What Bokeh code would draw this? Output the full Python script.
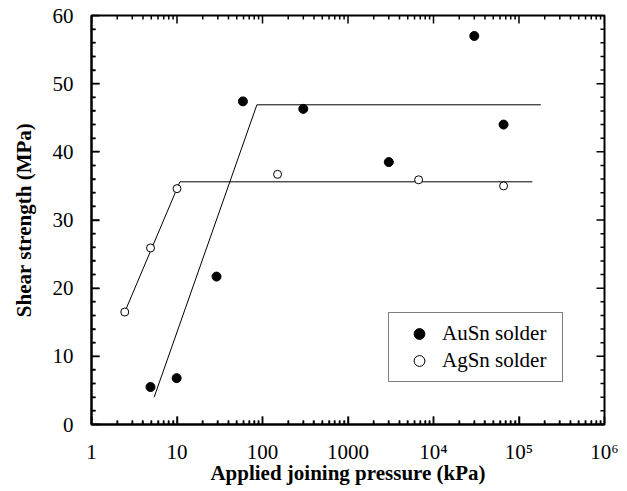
from bokeh.plotting import figure
from bokeh.models import FixedTicker, Legend, LegendItem, Range1d
from bokeh.embed import file_html
from bokeh.resources import INLINE

# ---- data ----
au_p = [4.9, 9.9, 29, 59, 300, 3000, 30000, 66000]
au_s = [5.5, 6.8, 21.7, 47.4, 46.3, 38.5, 57.0, 44.0]
ag_p = [2.45, 4.9, 10, 150, 6700, 66000]
ag_s = [16.5, 25.9, 34.6, 36.7, 35.9, 35.0]
au_fit_p = [5.4, 86, 180000]
au_fit_s = [4.0, 46.9, 46.9]
ag_fit_p = [2.45, 10.8, 143000]
ag_fit_s = [16.5, 35.6, 35.6]

x_major = [1, 10, 100, 1000, 1e4, 1e5, 1e6]
x_labels = ["1", "10", "100", "1000", "10\u2074", "10\u2075", "10\u2076"]
x_minor = [m * 10 ** d for d in range(6) for m in range(2, 10)]
y_major = [0, 10, 20, 30, 40, 50, 60]
y_minor = [2, 4, 6, 8, 12, 14, 16, 18, 22, 24, 26, 28, 32, 34, 36, 38,
           42, 44, 46, 48, 52, 54, 56, 58]
X0, X1, Y0, Y1 = 1, 1e6, 0, 60

FONT = "Liberation Serif"
FW, FH = 513, 409
MAJ, MIN = 8, 4  # tick lengths in pixels

p = figure(frame_width=FW, frame_height=FH, x_axis_type="log", output_backend="svg",
           toolbar_location=None, x_range=Range1d(X0, X1), y_range=Range1d(Y0, Y1),
           min_border_left=91, min_border_right=23, min_border_top=15,
           min_border_bottom=67)
p.grid.visible = False
p.outline_line_color = "black"
p.outline_line_width = 2
p.background_fill_color = "white"
p.border_fill_color = "white"

xt = FixedTicker(ticks=x_major, minor_ticks=x_minor)
yt = FixedTicker(ticks=y_major, minor_ticks=y_minor)

def style(ax):
    ax.axis_line_width = 2
    ax.axis_line_color = "black"
    ax.major_tick_in = MAJ
    ax.major_tick_out = 0
    ax.minor_tick_in = MIN
    ax.minor_tick_out = 0
    ax.major_tick_line_width = 1.5
    ax.minor_tick_line_width = 1.5
    ax.major_tick_line_color = "black"
    ax.minor_tick_line_color = "black"
    ax.major_label_text_font = FONT
    ax.major_label_text_font_size = "21px"
    ax.major_label_text_color = "black"
    ax.axis_label_text_font = FONT
    ax.axis_label_text_font_size = "21px"
    ax.axis_label_text_font_style = "bold"
    ax.axis_label_text_color = "black"

xa = p.xaxis[0]
xa.ticker = xt
xa.major_label_overrides = {float(v): s for v, s in zip(x_major, x_labels)}
style(xa)
xa.major_label_standoff = 15
xa.axis_label = "Applied joining pressure (kPa)"
xa.axis_label_standoff = -6

ya = p.yaxis[0]
ya.ticker = yt
style(ya)
ya.major_label_standoff = 18
ya.axis_label = "Shear strength (MPa)"
ya.axis_label_standoff = 14

# inward tick marks on all four frame edges, as segments from the tick arrays
px_per_decade = FW / 6.0
px_per_unit = FH / float(Y1 - Y0)
def xfac(px):
    return 10 ** (px / px_per_decade)
def ydel(px):
    return px / px_per_unit

TK = dict(line_color="black", line_width=1.5)
for ticks, L in ((y_major, MAJ), (y_minor, MIN)):
    n = len(ticks)
    p.segment(x0=[X0] * n, y0=ticks, x1=[X0 * xfac(L)] * n, y1=ticks, **TK)
    p.segment(x0=[X1] * n, y0=ticks, x1=[X1 / xfac(L)] * n, y1=ticks, **TK)
for ticks, L in ((x_major, MAJ), (x_minor, MIN)):
    n = len(ticks)
    p.segment(x0=ticks, y0=[Y0] * n, x1=ticks, y1=[Y0 + ydel(L)] * n, **TK)
    p.segment(x0=ticks, y0=[Y1] * n, x1=ticks, y1=[Y1 - ydel(L)] * n, **TK)

p.line(au_fit_p, au_fit_s, line_color="black", line_width=1)
p.line(ag_fit_p, ag_fit_s, line_color="black", line_width=1)
r_au = p.scatter(au_p, au_s, size=9, marker="circle", fill_color="black", line_color="black")
r_ag = p.scatter(ag_p, ag_s, size=8, marker="circle", fill_color="white", line_color="black", line_width=1)

leg = Legend(items=[LegendItem(label="AuSn solder", renderers=[r_au]),
                    LegendItem(label="AgSn solder", renderers=[r_ag])],
             location=(297, 42), padding=7, spacing=0, glyph_width=46, glyph_height=27,
             label_height=27, label_width=113, label_standoff=0,
             border_line_color="black", border_line_width=1,
             label_text_font=FONT, label_text_font_size="21px", label_text_color="black",
             margin=0, background_fill_color="white", background_fill_alpha=1)
p.add_layout(leg, "center")

open("out.html", "w").write(file_html(p, INLINE))
